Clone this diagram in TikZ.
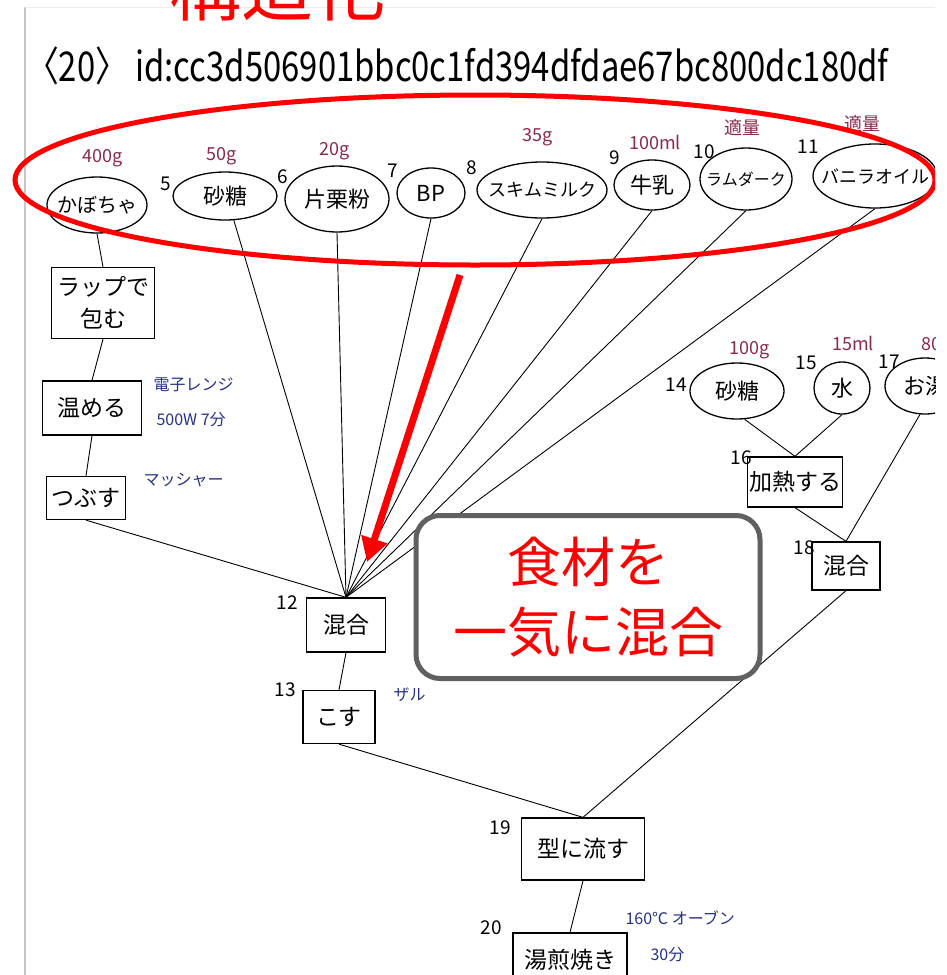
\documentclass[tikz,border=0pt]{standalone}
\usepackage{fontspec}
\setmainfont{Noto Sans CJK JP}
\newfontfamily\handfont[FakeStretch=0.8]{Noto Sans CJK JP}
\usetikzlibrary{shapes.geometric,arrows.meta}
\definecolor{amt}{HTML}{8A2A4A}
\definecolor{memoblue}{HTML}{26318A}
\definecolor{boxgray}{HTML}{606060}
\newcommand\fsz[1]{\fontsize{#1}{#1}\selectfont}
\newcommand\nw[1]{\makebox[0pt]{#1}}
\begin{document}
\begin{tikzpicture}[x=1pt,y=-1pt,
  ing/.style={ellipse,draw,line width=1.3pt,inner sep=0pt,font=\fsz{22}},
  proc/.style={rectangle,draw,line width=1.3pt,inner sep=0pt,font=\fsz{23},align=center},
  link/.style={line width=0.9pt},
  amount/.style={text=amt,font=\fsz{18}},
  num/.style={font=\fsz{19}},
  memo/.style={text=memoblue,font=\fsz{16}},
]
\useasboundingbox (0,0) rectangle (946,975);
\fill[white] (0,0) rectangle (946,975);
\begin{scope}
\clip (0,0) rectangle (935,975);
% page edges
\draw[gray!45, line width=2pt] (25,7) -- (25,975);
\draw[gray!15, line width=1pt] (25,7) -- (935,7);

% title (cut at top, as in the reference)
\node[anchor=base, text=red, font=\fsz{72}, inner sep=0pt] (title) at (277,15) {構造化};

% header id
\node[anchor=west, font=\handfont\fsz{41}, inner sep=0pt] (hdr) at (26,66) {〈20〉 id:cc3d506901bbc0c1fd394dfdae67bc800dc180df};

% ingredients
\node[ing, minimum width=100pt, minimum height=56pt, font=\fsz{20}] (kabo) at (97,205) {\nw{かぼちゃ}};
\node[ing, minimum width=104pt, minimum height=48pt] (sato) at (225,196) {\nw{砂糖}};
\node[ing, minimum width=104pt, minimum height=66pt] (kata) at (337,199) {\nw{片栗粉}};
\node[ing, minimum width=68pt, minimum height=50pt] (bp) at (431,193) {\nw{BP}};
\node[ing, minimum width=130pt, minimum height=56pt, font=\fsz{18}] (skim) at (542,190) {\nw{スキムミルク}};
\node[ing, minimum width=76pt, minimum height=50pt] (milk) at (652,185) {\nw{牛乳}};
\node[ing, minimum width=92pt, minimum height=62pt, font=\fsz{16}] (rum) at (746,179) {\nw{ラムダーク}};
\node[ing, minimum width=124pt, minimum height=64pt, font=\fsz{18}] (van) at (875,176) {\nw{バニラオイル}};
\node[ing, minimum width=94pt, minimum height=56pt] (sato2) at (737,391) {\nw{砂糖}};
\node[ing, minimum width=56pt, minimum height=52pt] (mizu) at (842,388) {\nw{水}};
\node[ing, minimum width=80pt, minimum height=56pt] (oyu) at (925,386) {\nw{お湯}};

% process boxes
\node[proc, minimum width=103pt, minimum height=71pt, font=\fontsize{23}{32}\selectfont] (wrap) at (103,303) {ラップで\\包む};
\node[proc, minimum width=99pt, minimum height=54pt] (warm) at (92,408) {温める};
\node[proc, minimum width=79pt, minimum height=43pt] (mash) at (86,498) {つぶす};
\node[proc, minimum width=79pt, minimum height=54pt] (mix12) at (346,625) {混合};
\node[proc, minimum width=72pt, minimum height=53pt] (kosu) at (339,717) {こす};
\node[proc, minimum width=95pt, minimum height=50pt] (heat) at (795,482) {加熱する};
\node[proc, minimum width=68pt, minimum height=48pt] (mix18) at (846,566) {混合};
\node[proc, minimum width=123pt, minimum height=62pt] (pour) at (583,849) {型に流す};
\node[proc, minimum width=114pt, minimum height=54pt] (bake) at (570,960) {湯煎焼き};

% connectors
\draw[link] (kabo.south) -- (wrap.north);
\draw[link] (wrap.south) -- (warm.north);
\draw[link] (warm.south) -- (mash.north);
\draw[link] (mash.south) -- (mix12.north);
\draw[link] (sato.-70) -- (mix12.north);
\draw[link] (kata.south) -- (mix12.north);
\draw[link] (bp.south) -- (mix12.north);
\draw[link] (skim.south) -- (mix12.north);
\draw[link] (milk.south) -- (mix12.north);
\draw[link] (rum.south) -- (mix12.north);
\draw[link] (van.south) -- (mix12.north);
\draw[link] (mix12.south) -- (kosu.north);
\draw[link] (kosu.south) -- (pour.north);
\draw[link] (sato2.-75) -- (heat.north);
\draw[link] (mizu.south) -- (heat.north);
\draw[link] (heat.south) -- (mix18.north);
\draw[link] (oyu.-100) -- (mix18.north);
\draw[link] (mix18.south) -- (pour.north);
\draw[link] (pour.south) -- (bake.north);

% step numbers
\node[num] (n5) at (166,184) {5};
\node[num] (n6) at (283,177) {6};
\node[num] (n7) at (393,171) {7};
\node[num] (n8) at (472,168) {8};
\node[num] (n9) at (615,158) {9};
\node[num] (n10) at (704,152) {10};
\node[num] (n11) at (808,147) {11};
\node[num] (n12) at (287,603) {12};
\node[num] (n13) at (285,690) {13};
\node[num] (n14) at (676,385) {14};
\node[num] (n15) at (806,363) {15};
\node[num] (n16) at (741,458) {16};
\node[num] (n17) at (889,362) {17};
\node[num] (n18) at (804,548) {18};
\node[num] (n19) at (500,828) {19};
\node[num] (n20) at (491,928) {20};

% amounts
\node[amount] (a1) at (103,158) {400g};
\node[amount] (a2) at (222,156) {50g};
\node[amount] (a3) at (335,151) {20g};
\node[amount] (a4) at (538,137) {35g};
\node[amount] (a5) at (655,142) {100ml};
\node[amount] (a6) at (742,128) {適量};
\node[amount] (a7) at (862,124) {適量};
\node[amount] (a8) at (750,350) {100g};
\node[amount] (a9) at (853,343) {15ml};
\node[amount, anchor=west] (a10) at (918,343) {80ml};

% memos
\node[memo, anchor=west] (m1) at (150,385) {電子レンジ};
\node[memo, anchor=west] (m2) at (153,420) {500W 7分};
\node[memo, anchor=west] (m3) at (140,480) {マッシャー};
\node[memo, anchor=west] (m4) at (390,695) {ザル};
\node[memo, anchor=west] (m5) at (622,918) {160℃ オーブン};
\node[memo, anchor=west] (m6) at (647,955) {30分};

% red highlight
\draw[red, line width=5pt] (475,180) ellipse [x radius=460, y radius=85];
\coordinate (arrS) at (460,275);
\coordinate (arrE) at (367,562);
\draw[red, line width=7pt, -{Triangle[length=24pt,width=26pt]}] (arrS) -- (arrE);

% callout
\node[draw=boxgray, line width=5pt, rounded corners=24pt, fill=white,
      minimum width=344pt, minimum height=163pt, text=red,
      font=\fontsize{54}{70}\selectfont, align=center] (callout) at (588,597) {食材を\\一気に混合};
\end{scope}
\end{tikzpicture}
\end{document}
